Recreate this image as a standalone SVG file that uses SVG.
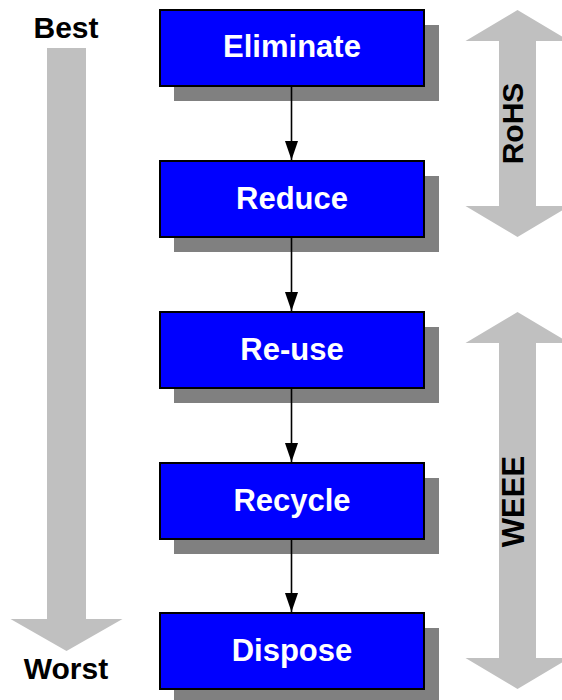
<svg xmlns="http://www.w3.org/2000/svg" width="562" height="700" viewBox="0 0 562 700">
  <style>
    .shadow { fill: #808080; }
    .box { fill: #0000FF; stroke: #000000; stroke-width: 2; }
    .label { font-family: "Liberation Sans", Arial, sans-serif; font-weight: bold; font-size: 31px; fill: #FFFFFF; text-anchor: middle; }
    .side { font-family: "Liberation Sans", Arial, sans-serif; font-weight: bold; font-size: 30px; fill: #000000; text-anchor: middle; }
    .band { fill: #C0C0C0; }
    .link { stroke: #000000; stroke-width: 1.6; fill: none; marker-end: url(#head); }
  </style>
  <defs>
    <marker id="head" viewBox="0 0 19 13" refX="19" refY="6.5" markerWidth="19" markerHeight="13" markerUnits="userSpaceOnUse" orient="auto">
      <path d="M0,0 L19,6.5 L0,13 Z" fill="#000000"/>
    </marker>
  </defs>

  <!-- Best to Worst scale -->
  <g id="scale">
    <path class="band" d="M47,48 L86,48 L86,619 L122.5,619 L66.5,651 L10.5,619 L47,619 Z"/>
    <text class="side" x="66" y="38">Best</text>
    <text class="side" x="66" y="679">Worst</text>
  </g>

  <!-- RoHS span -->
  <g id="rohs">
    <path class="band" d="M517.5,10 L569.5,41 L536,41 L536,206 L569.5,206 L517.5,237 L465.5,206 L499,206 L499,41 L465.5,41 Z"/>
    <text class="side" transform="translate(523,123.5) rotate(-90)">RoHS</text>
  </g>

  <!-- WEEE span -->
  <g id="weee">
    <path class="band" d="M517.5,312 L569.5,343 L536,343 L536,658 L569.5,658 L517.5,689 L465.5,658 L499,658 L499,343 L465.5,343 Z"/>
    <text class="side" style="font-size:31px" transform="translate(524,501.5) rotate(-90)">WEEE</text>
  </g>

  <g id="eliminate">
    <rect class="shadow" x="174" y="25" width="265" height="76"/>
    <rect class="box" x="160" y="10" width="264" height="76"/>
    <text class="label" x="292" y="57">Eliminate</text>
  </g>

  <g id="reduce">
    <rect class="shadow" x="174" y="176" width="265" height="76"/>
    <rect class="box" x="160" y="161" width="264" height="76"/>
    <text class="label" x="292" y="209">Reduce</text>
  </g>

  <g id="reuse">
    <rect class="shadow" x="174" y="327" width="265" height="76"/>
    <rect class="box" x="160" y="312" width="264" height="76"/>
    <text class="label" x="292" y="360">Re-use</text>
  </g>

  <g id="recycle">
    <rect class="shadow" x="174" y="478" width="265" height="76"/>
    <rect class="box" x="160" y="463" width="264" height="76"/>
    <text class="label" x="292" y="511">Recycle</text>
  </g>

  <g id="dispose">
    <rect class="shadow" x="174" y="628" width="265" height="76"/>
    <rect class="box" x="160" y="613" width="264" height="76"/>
    <text class="label" x="292" y="661">Dispose</text>
  </g>

  <!-- connectors, drawn over the drop shadows -->
  <g id="connectors">
    <line class="link" x1="291.5" y1="87" x2="291.5" y2="160"/>
    <line class="link" x1="291.5" y1="238" x2="291.5" y2="311"/>
    <line class="link" x1="291.5" y1="389" x2="291.5" y2="462"/>
    <line class="link" x1="291.5" y1="540" x2="291.5" y2="612"/>
  </g>
</svg>
